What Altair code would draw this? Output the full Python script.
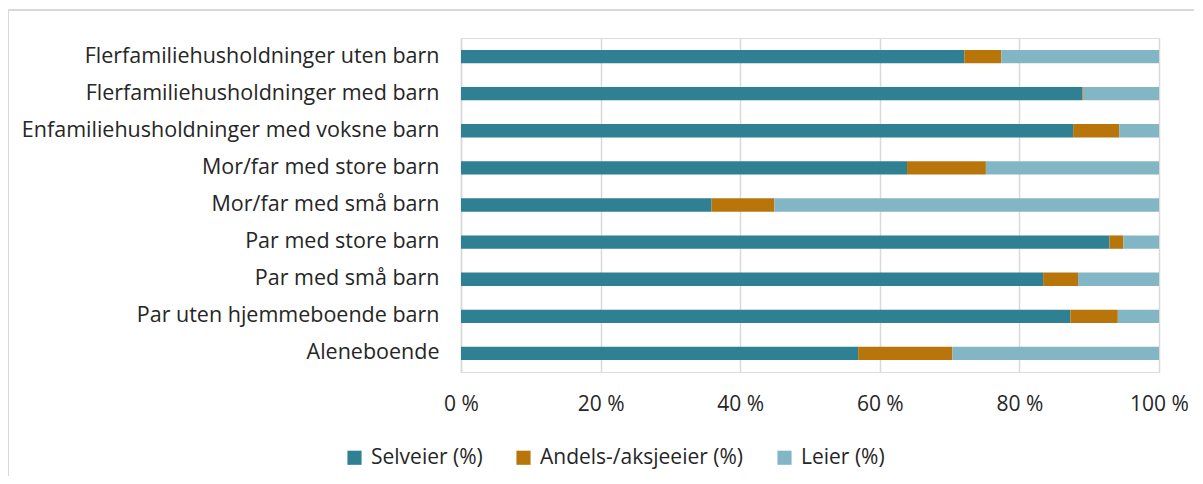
import altair as alt
import pandas as pd

categories = [
    "Flerfamiliehusholdninger uten barn\u00a0",
    "Flerfamiliehusholdninger med barn",
    "Enfamiliehusholdninger med voksne barn",
    "Mor/far med store barn\u00a0",
    "Mor/far med små barn",
    "Par med store barn\u00a0",
    "Par med små barn\u00a0",
    "Par uten hjemmeboende barn",
    "Aleneboende",
]
series = ["Selveier (%)", "Andels-/aksjeeier (%)", "Leier (%)"]
selveier = [72.1, 89.0, 87.7, 63.9, 35.9, 92.9, 83.4, 87.3, 56.9]
andels = [5.3, 0.1, 6.6, 11.3, 9.0, 2.0, 5.0, 6.8, 13.5]
leier = [22.6, 10.9, 5.7, 24.8, 55.1, 5.1, 11.6, 5.9, 29.6]
colors = ["#2e8092", "#b8760a", "#83b6c5"]

rows = []
for i, c in enumerate(categories):
    for j, (s, vals) in enumerate(zip(series, [selveier, andels, leier])):
        rows.append({"kategori": c, "serie": s, "verdi": vals[i], "rekkefolge": j})
df = pd.DataFrame(rows)

FONT = "Open Sans"
FS = 21

bars = alt.Chart(df).mark_bar().encode(
    y=alt.Y("kategori:N", sort=categories, title=None,
            scale=alt.Scale(paddingInner=0.64, paddingOuter=0.32),
            axis=alt.Axis(domain=True, domainColor="#d9d9d9", domainWidth=1.5,
                          ticks=False, labelPadding=22, labelFontSize=21.5,
                          labelLimit=600,
                          labelColor="#262626", labelFont=FONT, grid=False)),
    x=alt.X("verdi:Q", stack="normalize", title=None,
            scale=alt.Scale(domain=[0, 1]),
            axis=alt.Axis(format=".0%", values=[0, 0.2, 0.4, 0.6, 0.8, 1.0],
                          labelExpr="replace(datum.label, '%', ' %')",
                          labelFlush=False,
                          domain=False, ticks=False, grid=True,
                          gridColor="#d9d9d9", gridWidth=1.5,
                          labelPadding=21, labelFontSize=FS, labelColor="#262626",
                          labelFont=FONT)),
    color=alt.Color("serie:N", sort=series,
                    scale=alt.Scale(domain=series, range=colors),
                    legend=alt.Legend(title=None, orient="none", legendX=-117, legendY=409,
                                      direction="horizontal", symbolType="square",
                                      symbolSize=200, symbolStrokeWidth=0,
                                      labelFontSize=FS, labelFont=FONT, labelColor="#262626",
                                      labelLimit=400,
                                      columnPadding=30, labelOffset=6)),
    order=alt.Order("rekkefolge:Q"),
)

frame = alt.Chart(alt.Data(values=[{}])).mark_rect(
    filled=False, stroke="#d9d9d9", strokeWidth=2
).encode(x=alt.value(-453), x2=alt.value(800), y=alt.value(-28), y2=alt.value(520))

chart = alt.layer(frame, bars).properties(
    width=698, height=334,
    autosize=alt.AutoSizeParams(type="none"),
    padding={"left": 453, "top": 30, "right": 35, "bottom": 104},
).configure_view(stroke=None).configure(background="white")

chart.save("out.html", embed_options={"renderer": "svg", "actions": False})
